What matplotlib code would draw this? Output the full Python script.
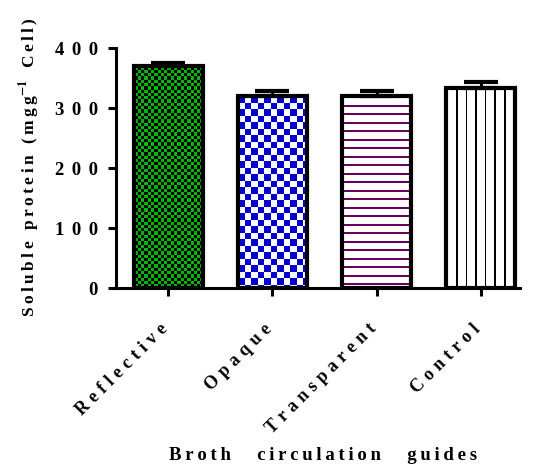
import numpy as np
import matplotlib
matplotlib.use("Agg")
import matplotlib.pyplot as plt
from matplotlib.transforms import ScaledTranslation

# data
groups = ["Reflective", "Opaque", "Transparent", "Control"]
protein = [370, 320, 320, 334]
protein_err = [5, 9, 8, 10]
y_ticks = [0, 100, 200, 300, 400]
x_title = "Broth circulation guides"
y_title = "Soluble protein (mgg"

plt.rcParams['font.family'] = ['Liberation Serif', 'DejaVu Serif']
plt.rcParams['font.weight'] = 'bold'
plt.rcParams['mathtext.fontset'] = 'stix'

DPI = 100
THIN = "\u2009"
HAIR = "\u200a"


def spaced(s, gap=THIN, word=THIN + " " + THIN):
    # the reference uses wide letter spacing
    return word.join(gap.join(w) for w in s.split(" "))


fig = plt.figure(figsize=(5.33, 4.65), dpi=DPI)
ax = fig.add_axes([0.2176, 0.3806, 0.758, 0.516])

x = np.arange(len(groups))
bars = ax.bar(x, protein, width=0.66, facecolor='none', edgecolor='black',
              linewidth=3, zorder=3)
ax.errorbar(x, protein, yerr=[np.zeros(len(x)), protein_err], fmt='none',
            ecolor='black', elinewidth=2.2, capsize=12, capthick=3, zorder=4)

ax.set_xlim(-0.5, 3.375)
ax.set_ylim(0, 400)


def fill_pattern(kind, w, h):
    """ pixel pattern for one bar, RGB in 0..1 """
    yy, xx = np.mgrid[0:h, 0:w]
    img = np.ones((h, w, 3))
    if kind == "green":
        c = 3.3
        on = ((xx // c).astype(int) + (yy // c).astype(int)) % 2 == 0
        img[:] = (0, 0, 0)
        img[on] = (0.0, 0.72, 0.0)
    elif kind == "blue":
        c = 6.5
        on = ((xx // c).astype(int) + (yy // c).astype(int)) % 2 == 0
        img[on] = (0.0, 0.0, 0.8)
    elif kind == "hlines":
        on = (yy % 8.5) < 1.6
        img[on] = (0.42, 0.0, 0.38)
    elif kind == "vlines":
        on = (xx % 9.6) < 1.6
        img[on] = (0, 0, 0)
    return img


kinds = ["green", "blue", "hlines", "vlines"]
fig.canvas.draw()
for bar, kind in zip(bars, kinds):
    x0, w, h = bar.get_x(), bar.get_width(), bar.get_height()
    p0 = ax.transData.transform((x0, 0))
    p1 = ax.transData.transform((x0 + w, h))
    wpx = int(round(abs(p1[0] - p0[0])))
    hpx = int(round(abs(p1[1] - p0[1])))
    im = ax.imshow(fill_pattern(kind, wpx, hpx), extent=(x0, x0 + w, 0, h),
                   aspect='auto', interpolation='nearest', zorder=2)
    im.set_clip_path(bar)

ax.set_xlim(-0.5, 3.375)
ax.set_ylim(0, 400)

# axes styling
for side in ['top', 'right']:
    ax.spines[side].set_visible(False)
for side in ['left', 'bottom']:
    ax.spines[side].set_linewidth(2.2)

ax.set_yticks(y_ticks)
ax.set_yticklabels([spaced(str(v), gap=THIN + THIN) for v in y_ticks],
                   fontsize=13.5, fontweight='bold')
ax.set_xticks(x)
ax.set_xticklabels([spaced(g, gap=THIN + HAIR) for g in groups], rotation=45,
                   ha='right', rotation_mode='anchor', fontsize=13,
                   fontweight='bold')
ax.tick_params(axis='both', direction='out', length=6, width=2.2)
ax.tick_params(axis='x', pad=16)
ax.tick_params(axis='y', pad=7)

# nudge the slanted labels so they end right under the ticks
shift = ScaledTranslation(-0.09, -0.02, fig.dpi_scale_trans)
for lab in ax.get_xticklabels():
    lab.set_transform(lab.get_transform() + shift)

ylab = spaced(y_title) + "$^{\\mathbf{-1}}$" + THIN + " " + THIN + spaced("Cell)")
fig.text(0.055, 0.64, ylab, rotation=90, ha='center', va='center',
         fontsize=12.5, fontweight='bold')
fig.text(0.607, 0.01, spaced(x_title, word=THIN + "\u2003" + THIN),
         ha='center', va='baseline', fontsize=13.5, fontweight='bold')

fig.savefig("out.png", dpi=DPI)
